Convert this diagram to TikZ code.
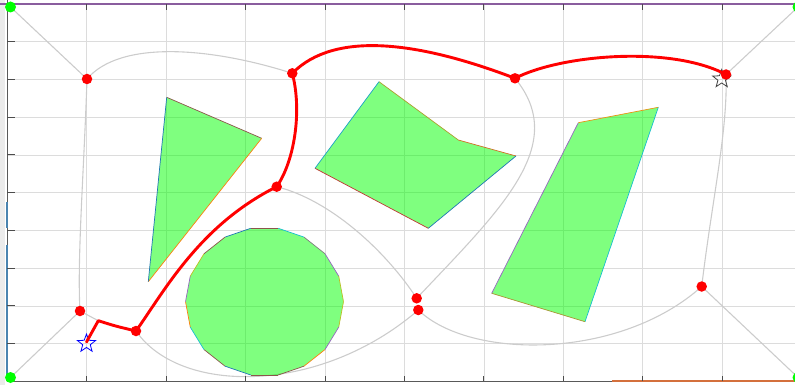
\documentclass[tikz,border=0pt]{standalone}
\usetikzlibrary{shapes.geometric}
\definecolor{gridc}{HTML}{DCDCDC}
\definecolor{roadc}{HTML}{CCCCCC}
\definecolor{lime}{RGB}{0,255,0}
\definecolor{c0}{HTML}{1F77B4}
\definecolor{c1}{HTML}{FF7F0E}
\definecolor{c2}{HTML}{2CA02C}
\definecolor{c3}{HTML}{D62728}
\definecolor{c4}{HTML}{9467BD}
\definecolor{c5}{HTML}{8C564B}
\definecolor{c6}{HTML}{E377C2}
\definecolor{c7}{HTML}{7F7F7F}
\definecolor{c8}{HTML}{BCBD22}
\definecolor{c9}{HTML}{17BECF}
\definecolor{axblue}{HTML}{4A84B0}
\definecolor{axpurple}{HTML}{8A5D9E}
\definecolor{axorange}{HTML}{D4703C}
\begin{document}
\begin{tikzpicture}[x=1pt,y=-1pt,
  gridline/.style={draw=gridc, line width=0.8pt},
  road/.style={draw=roadc, line width=1.1pt},
  obst/.style={fill=lime, fill opacity=0.5},
  obsedge/.style={line width=0.7pt},
  redpath/.style={draw=red, line width=2.9pt, line cap=round, line join=round},
  rdot/.style={circle, fill=red, inner sep=0pt, minimum size=10.5pt},
  gdot/.style={circle, fill=lime, inner sep=0pt, minimum size=11pt},
  tickmark/.style={draw=black!70, line width=1pt},
  startstar/.style={star, star points=5, star point ratio=2.4, draw=blue, line width=0.8pt, inner sep=0pt, minimum size=19pt},
  goalstar/.style={star, star points=5, star point ratio=2.4, draw=black!75, line width=0.8pt, inner sep=0pt, minimum size=19pt}]
\path[use as bounding box] (0,0) rectangle (795,385);
\fill[black!8] (0,0) rectangle (5,385);
% grid
\foreach \k in {0,...,8}{
  \pgfmathsetmacro\xx{86.7+79.45*\k}
  \draw[gridline] (\xx,4) -- (\xx,381);
}
\foreach \k in {1,...,9}{
  \pgfmathsetmacro\yy{3.9+37.76*\k}
  \draw[gridline] (7,\yy) -- (795,\yy);
}
% roadmap vertices
\coordinate (TL) at (10.5,7);
\coordinate (BL) at (10.5,377.5);
\coordinate (BR) at (798,377.5);
\coordinate (TR) at (798,7);
\coordinate (A) at (87,79);
\coordinate (B) at (80,311);
\coordinate (C) at (136,331);
\coordinate (D) at (276.7,186.7);
\coordinate (E) at (292.3,73.3);
\coordinate (F) at (515,78.3);
\coordinate (G) at (726,74.5);
\coordinate (H) at (701.7,286.5);
\coordinate (I) at (416.7,298.3);
\coordinate (J) at (418.3,310);
\coordinate (S) at (86.5,342);
\coordinate (K) at (98.3,320.7);
% roadmap edges
\draw[road] (TL) -- (A);
\draw[road] (BL) -- (B);
\draw[road] (BR) -- (H);
\draw[road] (TR) -- (G);
\draw[road] (A) .. controls (120,40) and (210,47) .. (E);
\draw[road] (A) .. controls (84,170) and (77,260) .. (B);
\draw[road] (B) -- (K);
\draw[road] (C) .. controls (180,395) and (320,395) .. (J);
\draw[road] (D) .. controls (330,200) and (385,250) .. (I);
\draw[road] (I) .. controls (500,210) and (570,145) .. (F);
\draw[road] (J) .. controls (470,360) and (620,360) .. (H);
\draw[road] (H) .. controls (712,200) and (728,130) .. (G);
% obstacles
\coordinate (T1) at (166.7,97.3);
\coordinate (T2) at (261.7,138.3);
\coordinate (T3) at (148.3,281.7);
\fill[obst] (T1) -- (T2) -- (T3) -- cycle;
\draw[obsedge,c5] (T1) -- (T2);
\draw[obsedge,c1] (T2) -- (T3);
\draw[obsedge,c0] (T3) -- (T1);
\coordinate (P1) at (379,81.7);
\coordinate (P2) at (458.3,140);
\coordinate (P3) at (516,156);
\coordinate (P4) at (428.3,228.3);
\coordinate (P5) at (315,168.3);
\fill[obst] (P1) -- (P2) -- (P3) -- (P4) -- (P5) -- cycle;
\draw[obsedge,c8!70!c5] (P1) -- (P2);
\draw[obsedge,c1!60!c5] (P2) -- (P3);
\draw[obsedge,c0] (P3) -- (P4);
\draw[obsedge,c3!70!c5] (P4) -- (P5);
\draw[obsedge,c9!60!c0] (P5) -- (P1);
\coordinate (Q1) at (578.3,122.7);
\coordinate (Q2) at (658.3,107.3);
\coordinate (Q3) at (585,321.7);
\coordinate (Q4) at (491.7,293.3);
\fill[obst] (Q1) -- (Q2) -- (Q3) -- (Q4) -- cycle;
\draw[obsedge,c1!70!c8] (Q1) -- (Q2);
\draw[obsedge,c9] (Q2) -- (Q3);
\draw[obsedge,c8!60!c5] (Q3) -- (Q4);
\draw[obsedge,c4] (Q4) -- (Q1);
\begin{scope}[shift={(264.5,301.65)}]
\fill[obst] (0:79 and 74.5) \foreach \a in {20,40,...,340}{ -- (\a:79 and 74.5)} -- cycle;
\foreach \a/\c in {0/c8,20/c4,40/c1,60/c5,80/c5,100/c0,120/c5,140/c9,160/c1,180/c4,200/c8,220/c5,240/c0,260/c5,280/c9,300/c7,320/c4,340/c8}{
  \draw[obsedge,\c] (\a:79 and 74.5) -- (\a+20:79 and 74.5);
}
\end{scope}
% axes frame
\draw[draw=black!65, line width=1pt] (7,0) -- (7,381) -- (612,381);
\draw[draw=axorange, line width=1.6pt] (612,381.2) -- (795,381.2);
\draw[draw=axpurple, line width=1.6pt] (0,4) -- (795,4);
\draw[draw=axblue, line width=2.4pt] (6.8,202) -- (6.8,228);
\draw[draw=axblue, line width=2.4pt] (6.8,245) -- (6.8,381);
\foreach \k in {0,...,8}{
  \pgfmathsetmacro\xx{86.7+79.45*\k}
  \draw[tickmark] (\xx,4) -- (\xx,10);
  \draw[tickmark] (\xx,381) -- (\xx,376);
}
\foreach \k in {1,...,9}{
  \pgfmathsetmacro\yy{3.9+37.76*\k}
  \draw[tickmark] (7,\yy) -- (15,\yy);
}
% stars
\node[startstar] (start) at (86.5,343.5) {};
\node[goalstar] (goal) at (721.7,79) {};
% path
\draw[redpath] (S) -- (K) .. controls (115,326) .. (C)
  .. controls (165,290) and (200,225) .. (D)
  .. controls (295,160) and (302,110) .. (E)
  .. controls (335,30) and (420,42) .. (F)
  .. controls (560,55) and (670,45) .. (G);
% dots
\foreach \n in {A,B,C,D,E,F,G,H,I,J}{
  \node[rdot] (d\n) at (\n) {};
}
\node[gdot] (gTL) at (TL) {};
\node[gdot] (gBL) at (BL) {};
\node[gdot] (gBR) at (BR) {};
\node[gdot] (gTR) at (TR) {};
\end{tikzpicture}
\end{document}
